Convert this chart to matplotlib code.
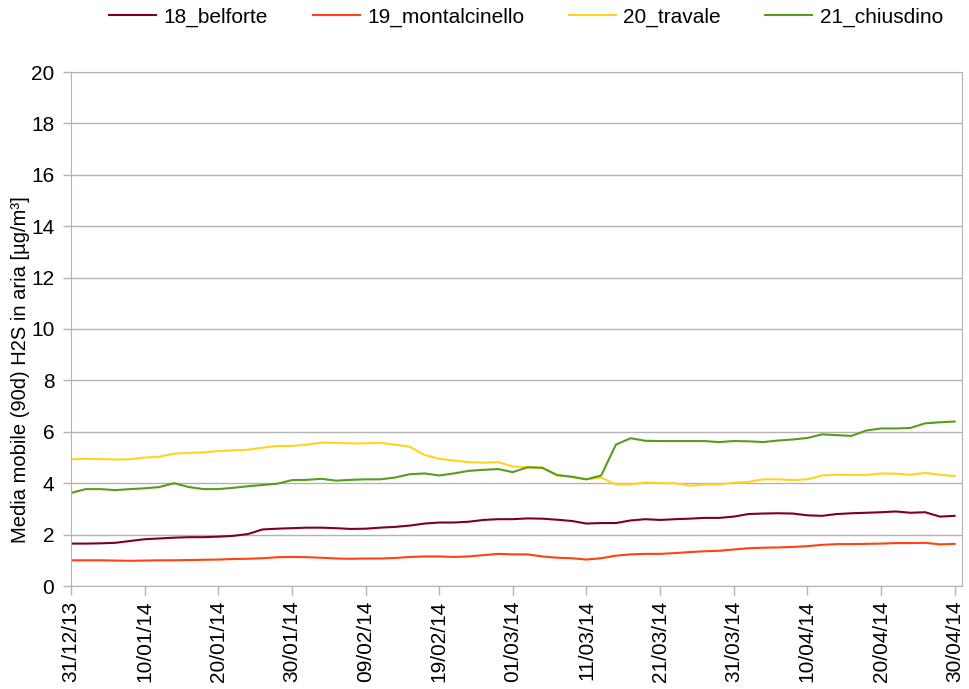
import matplotlib
matplotlib.use("Agg")
import matplotlib.pyplot as plt
import matplotlib.dates as mdates
import numpy as np
import pandas as pd

plt.rcParams['font.family'] = ['Liberation Sans', 'DejaVu Sans']

start = pd.Timestamp("2013-12-31")
days = list(range(0, 121, 2))
dates = [start + pd.Timedelta(days=d) for d in days]

belforte = [1.65, 1.65, 1.66, 1.68, 1.75, 1.82, 1.85, 1.88, 1.90, 1.90,
            1.92, 1.95, 2.02, 2.20, 2.23, 2.25, 2.27, 2.27, 2.25, 2.22,
            2.23, 2.27, 2.30, 2.35, 2.43, 2.47, 2.47, 2.50, 2.57, 2.60,
            2.60, 2.63, 2.62, 2.58, 2.53, 2.43, 2.45, 2.45, 2.55, 2.60,
            2.57, 2.60, 2.62, 2.65, 2.65, 2.70, 2.80, 2.82, 2.83, 2.82,
            2.75, 2.73, 2.80, 2.83, 2.85, 2.87, 2.90, 2.85, 2.87, 2.70,
            2.73]
montalcinello = [1.00, 1.00, 1.00, 0.99, 0.98, 0.99, 1.00, 1.00, 1.01, 1.02,
                 1.03, 1.05, 1.06, 1.08, 1.12, 1.13, 1.12, 1.10, 1.07, 1.06,
                 1.07, 1.07, 1.09, 1.13, 1.15, 1.15, 1.13, 1.15, 1.20, 1.25,
                 1.23, 1.23, 1.15, 1.10, 1.08, 1.03, 1.08, 1.18, 1.23, 1.25,
                 1.25, 1.28, 1.32, 1.35, 1.37, 1.42, 1.47, 1.49, 1.50, 1.52,
                 1.55, 1.60, 1.63, 1.63, 1.64, 1.65, 1.67, 1.67, 1.68, 1.62,
                 1.64]
travale = [4.93, 4.95, 4.94, 4.92, 4.93, 5.00, 5.03, 5.15, 5.18, 5.20,
           5.25, 5.28, 5.30, 5.38, 5.45, 5.45, 5.50, 5.58, 5.57, 5.55,
           5.55, 5.57, 5.50, 5.42, 5.10, 4.95, 4.88, 4.82, 4.80, 4.82,
           4.65, 4.62, 4.60, 4.30, 4.25, 4.15, 4.22, 3.95, 3.95, 4.03,
           4.00, 4.00, 3.90, 3.95, 3.95, 4.02, 4.05, 4.15, 4.15, 4.12,
           4.15, 4.30, 4.33, 4.32, 4.32, 4.38, 4.37, 4.33, 4.40, 4.33,
           4.28]
chiusdino = [3.62, 3.77, 3.77, 3.73, 3.77, 3.80, 3.85, 4.00, 3.85, 3.77,
             3.77, 3.82, 3.88, 3.93, 3.98, 4.12, 4.13, 4.17, 4.10, 4.13,
             4.15, 4.15, 4.22, 4.35, 4.38, 4.30, 4.38, 4.48, 4.52, 4.55,
             4.43, 4.62, 4.60, 4.32, 4.25, 4.15, 4.30, 5.50, 5.75, 5.65,
             5.64, 5.64, 5.64, 5.64, 5.60, 5.64, 5.63, 5.60, 5.66, 5.70,
             5.76, 5.90, 5.87, 5.84, 6.05, 6.13, 6.13, 6.15, 6.33, 6.37,
             6.40]

names = ["18_belforte", "19_montalcinello", "20_travale", "21_chiusdino"]
colors = ["#7e0021", "#ff420e", "#ffd320", "#579d1c"]
series = [belforte, montalcinello, travale, chiusdino]

fig = plt.figure(figsize=(9.69, 6.89), dpi=100)
ax = fig.add_axes([71/969, 1-586/689, (962-71)/969, (586-72)/689])

for name, col, vals in zip(names, colors, series):
    ax.plot(dates, vals, color=col, lw=1.5, label=name)

ax.set_ylim(0, 20)
ax.set_yticks(np.arange(0, 21, 2))
ax.set_xlim(start, start + pd.Timedelta(days=121))
ticks = [start + pd.Timedelta(days=10*k) for k in range(13)]
ax.set_xticks(ticks)
ax.xaxis.set_major_formatter(mdates.DateFormatter("%d/%m/%y"))
plt.setp(ax.get_xticklabels(), rotation=90)

ax.grid(axis='y', color='#b3b3b3', lw=1)
ax.set_axisbelow(True)
for s in ax.spines.values():
    s.set_color('#b3b3b3')
ax.tick_params(axis='both', colors='#b3b3b3', labelcolor='black', labelsize=15)
ax.tick_params(axis='y', length=6, width=1, pad=6)
ax.tick_params(axis='x', length=6.5, width=1, pad=4)

fig.text(21/969, 1-370/689, "Media mobile (90d) H2S in aria [µg/m³]",
         rotation=90, fontsize=14.5, ha='center', va='center')

fig.legend(loc='center', bbox_to_anchor=(0.543, 0.975), ncol=4, frameon=False,
           fontsize=15, handlelength=2.25, columnspacing=2.15, handletextpad=0.35)

fig.savefig("out.png", dpi=100)
